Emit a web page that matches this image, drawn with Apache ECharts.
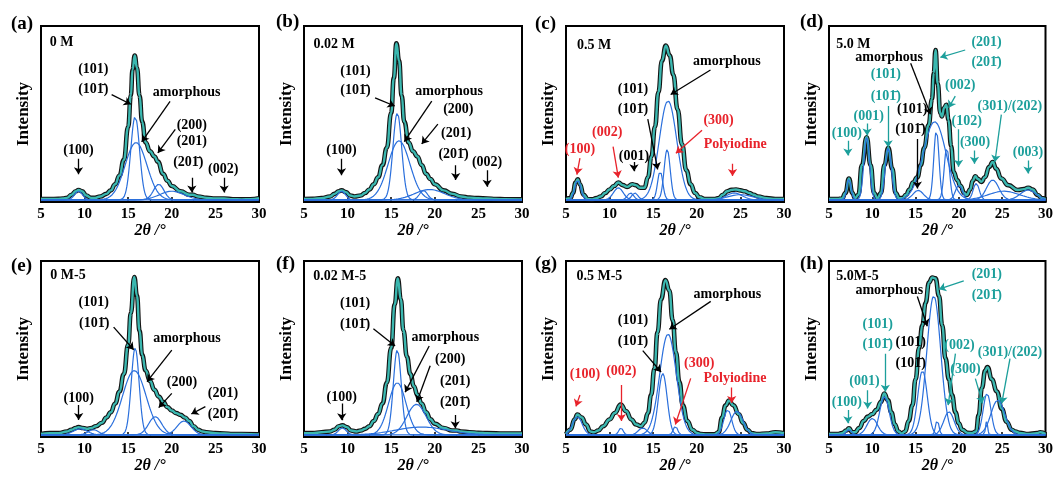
<!DOCTYPE html>
<html>
<head>
<meta charset="utf-8">
<script src="https://cdn.jsdelivr.net/npm/echarts@6/dist/echarts.min.js"></script>
<style>
  html, body { margin: 0; padding: 0; background: #fff; }
  #chart { width: 1056px; height: 479px; }
</style>
</head>
<body>
<div id="chart"></div>
<script>
  // x axis: 2theta, degrees
  var xMin = 5, xMax = 30, xStep = 5;
  var panelLabels = ['(a)', '(b)', '(c)', '(d)', '(e)', '(f)', '(g)', '(h)'];
  var sampleNames = ['0 M', '0.02 M', '0.5 M', '5.0 M', '0 M-5', '0.02 M-5', '0.5 M-5', '5.0M-5'];
  var samplePos = [[6.0, .905], [6.1, .894], [6.25, .89], [5.84, .894], [6.07, .92], [6.07, .913], [6.2, .91], [5.84, .914]];

  // measured patterns [2theta, relative intensity]
  var measA = [[5,.005],[6,.005],[7,.006],[7.5,.008],[8,.012],[8.5,.03],[9,.05],[9.3,.057],[9.7,.05],[10.2,.025],[10.7,.012],[11.2,.012],[11.8,.02],[12.5,.035],[13,.055],[13.5,.09],[14,.14],[14.5,.23],[15,.42],[15.3,.6],[15.5,.75],[15.75,.83],[16,.76],[16.3,.6],[16.6,.45],[17,.33],[17.5,.28],[18,.25],[18.4,.22],[19,.15],[19.5,.11],[20,.08],[21,.05],[22,.03],[22.4,.03],[23,.02],[24,.012],[25,.008],[26,.008],[27,.004],[28,.003],[29,.004],[30,.01]];
  var measB = [[5,.005],[6,.006],[7,.01],[8,.02],[8.5,.035],[9,.05],[9.3,.055],[9.8,.045],[10.3,.025],[10.8,.02],[11.5,.025],[12,.04],[12.5,.06],[13,.09],[13.5,.13],[14,.2],[14.5,.3],[15,.5],[15.3,.7],[15.6,.9],[15.9,.8],[16.2,.6],[16.5,.45],[17,.33],[17.5,.28],[18,.25],[18.5,.2],[19,.15],[19.5,.12],[20,.09],[21,.055],[22,.035],[23,.02],[24,.013],[25,.01],[26,.008],[27,.005],[28,.004],[30,.003]];
  var measC = [[5,.005],[5.5,.01],[5.8,.04],[6.1,.1],[6.35,.118],[6.6,.09],[7,.03],[7.5,.005],[8,.003],[8.5,.01],[9,.02],[9.5,.04],[10,.06],[10.5,.08],[11,.1],[11.5,.085],[12,.075],[12.6,.09],[13,.085],[13.5,.07],[14,.07],[14.4,.13],[14.8,.25],[15.2,.42],[15.6,.62],[16,.8],[16.45,.887],[16.9,.83],[17.3,.72],[17.8,.52],[18.3,.32],[18.8,.17],[19.3,.09],[19.8,.04],[20.3,.015],[21,.005],[22,.005],[22.5,.01],[23,.03],[23.5,.05],[24,.058],[24.5,.06],[25,.055],[25.5,.05],[26,.04],[26.5,.03],[27,.02],[28,.01],[29,.005],[30,.005]];
  var measD = [[5,.005],[6,.005],[6.5,.008],[6.9,.04],[7.3,.123],[7.7,.04],[8,.01],[8.4,.03],[8.8,.2],[9.35,.36],[9.8,.2],[10.2,.04],[10.6,.01],[11,.04],[11.4,.2],[11.85,.3],[12.3,.18],[12.7,.04],[13.1,.01],[13.5,.01],[13.9,.03],[14.3,.06],[14.7,.1],[15.2,.13],[15.6,.2],[16,.3],[16.5,.43],[16.9,.58],[17.1,.73],[17.3,.862],[17.55,.67],[17.85,.5],[18.05,.48],[18.3,.53],[18.55,.547],[18.8,.46],[19.1,.31],[19.4,.16],[19.8,.114],[20.2,.08],[20.6,.04],[20.9,.028],[21.3,.06],[21.6,.11],[21.9,.136],[22.2,.12],[22.6,.104],[23,.13],[23.5,.19],[23.9,.218],[24.3,.18],[24.9,.123],[25.7,.085],[26.8,.057],[27.5,.062],[28,.07],[28.5,.06],[29.1,.028],[29.6,.01],[30,.005]];
  var measE = [[5,.005],[6,.01],[7,.01],[8,.02],[8.5,.03],[9,.04],[9.3,.045],[9.8,.04],[10.3,.035],[10.8,.04],[11.3,.05],[12,.07],[12.5,.1],[13,.13],[13.5,.18],[14,.25],[14.5,.35],[15,.52],[15.3,.7],[15.7,.908],[16,.8],[16.3,.6],[16.6,.46],[17,.37],[17.5,.31],[18,.26],[18.5,.22],[19,.19],[19.5,.16],[20,.14],[20.5,.125],[21,.115],[21.5,.1],[22,.08],[22.5,.05],[23,.03],[23.5,.02],[24,.015],[25,.01],[26,.008],[27,.005],[28,.005],[30,.003]];
  var measF = [[5,.01],[6,.01],[7,.015],[8,.02],[8.5,.03],[9,.05],[9.4,.055],[9.9,.045],[10.4,.025],[11,.02],[11.5,.025],[12,.035],[12.5,.05],[13,.08],[13.5,.12],[14,.18],[14.5,.3],[15,.5],[15.4,.75],[15.76,.9],[16.1,.78],[16.4,.6],[16.8,.45],[17.2,.35],[17.6,.28],[18,.23],[18.5,.18],[19,.13],[19.5,.09],[20,.065],[21,.04],[22,.025],[22.5,.025],[23,.02],[24,.015],[25,.012],[26,.01],[28,.008],[30,.008]];
  var measG = [[5,.005],[5.5,.03],[6,.09],[6.3,.117],[6.8,.1],[7.3,.06],[7.8,.02],[8.2,.015],[8.7,.025],[9.26,.05],[10,.089],[10.6,.126],[11.27,.174],[11.9,.136],[12.5,.089],[13.05,.06],[13.6,.05],[14,.07],[14.4,.126],[14.76,.23],[15.14,.38],[15.5,.59],[15.9,.78],[16.4,.89],[16.85,.83],[17.23,.66],[17.6,.475],[18,.306],[18.4,.17],[18.9,.08],[19.5,.03],[20,.012],[20.5,.005],[21,.003],[22,.003],[22.5,.015],[22.9,.1],[23.3,.17],[23.7,.198],[24.2,.17],[24.8,.12],[25.3,.07],[25.8,.03],[26.3,.01],[27,.005],[28,.008],[29,.015],[30,.01]];
  var measH = [[5,.005],[6,.005],[6.5,.01],[7,.025],[7.3,.038],[7.7,.015],[8,.015],[8.5,.04],[9,.08],[9.5,.105],[10,.12],[10.5,.145],[11,.19],[11.38,.238],[11.8,.2],[12.2,.13],[12.6,.06],[13,.02],[13.4,.008],[13.8,.02],[14.2,.08],[14.63,.17],[15,.32],[15.4,.5],[15.78,.63],[16.16,.76],[16.54,.876],[16.93,.905],[17.3,.9],[17.7,.8],[18.07,.63],[18.45,.44],[18.84,.32],[19.2,.23],[19.6,.13],[19.98,.067],[20.37,.03],[21,.012],[21.5,.01],[22,.02],[22.28,.114],[22.66,.27],[23.04,.37],[23.3,.39],[23.8,.32],[24.38,.25],[24.95,.15],[25.5,.076],[26.1,.03],[26.5,.02],[27,.012],[28,.005],[29,.01],[29.4,.015],[30,.005]];

  // fitted peaks [centre, height, sigma]
  var peaksA = [[9.3,.05,.45],[15.8,.48,.5],[15.9,.33,1.25],[18.5,.09,.6],[20.0,.05,1.4]];
  var peaksB = [[9.3,.05,.45],[15.7,.5,.5],[15.9,.34,1.25],[18.7,.055,.45],[19.4,.06,1.7]];
  var peaksC = [[6.35,.115,.35],[11.0,.07,.55],[12.4,.04,.35],[12.9,.04,.35],[15.8,.165,.3],[16.6,.29,.35],[16.7,.57,1.0],[24.3,.04,.9],[25.0,.03,1.4]];
  var peaksD = [[7.3,.12,.25],[9.35,.36,.33],[11.85,.3,.36],[15.3,.055,.6],[17.2,.45,1.3],[17.4,.40,.3],[18.6,.3,.3],[20.0,.085,.4],[22.0,.095,.35],[23.9,.115,.7],[25.2,.05,1.8],[28.0,.057,.9]];
  var peaksE = [[9.5,.035,.8],[11.0,.03,.6],[15.8,.5,.45],[15.7,.37,1.35],[18.1,.105,.75],[21.4,.08,.8]];
  var peaksF = [[9.4,.04,.45],[15.7,.49,.45],[15.7,.30,1.0],[17.9,.176,1.1],[18.5,.045,3]];
  var peaksG = [[6.3,.105,.55],[11.3,.04,.25],[13.8,.04,.5],[16.1,.353,.5],[16.7,.58,.95],[17.55,.05,.25],[23.55,.145,.45],[24.6,.136,.7]];
  var peaksH = [[7.3,.03,.3],[10.0,.095,.6],[11.4,.22,.55],[15.8,.37,.55],[17.1,.8,.8],[17.5,.085,.2],[18.85,.133,.6],[23.25,.238,.45],[23.2,.08,.12],[24.5,.2,.8]];

  // annotation texts [2theta, y, text, colour key]
  var textsA = [[11.0,.75,'(101)','k'],[11.0,.634,'(101\u0304)','k'],[21.7,.62,'amorphous','k'],[22.3,.43,'(200)','k'],[22.3,.334,'(201)','k'],[21.9,.214,'(201\u0304)','k'],[9.3,.286,'(100)','k'],[25.9,.176,'(002)','k']];
  var textsB = [[10.9,.739,'(101)','k'],[10.9,.63,'(101\u0304)','k'],[21.65,.625,'amorphous','k'],[22.7,.52,'(200)','k'],[22.45,.384,'(201)','k'],[22.15,.26,'(201\u0304)','k'],[9.3,.284,'(100)','k'],[26.0,.218,'(002)','k']];
  var textsC = [[12.68,.638,'(101)','k'],[12.68,.52,'(101\u0304)','k'],[23.45,.794,'amorphous','k'],[22.5,.456,'(300)','r'],[24.4,.32,'Polyiodine','r'],[9.73,.39,'(002)','r'],[6.6,.29,'(100)','r'],[12.8,.25,'(001)','k']];
  var textsD = [[11.95,.82,'amorphous','k'],[23.2,.905,'(201)','t'],[23.2,.79,'(201\u0304)','t'],[11.56,.72,'(101)','t'],[11.56,.597,'(101\u0304)','t'],[20.15,.657,'(002)','t'],[9.58,.479,'(001)','t'],[7.06,.383,'(100)','t'],[14.6,.52,'(101)','k'],[14.4,.407,'(101\u0304)','k'],[20.9,.449,'(102)','t'],[21.87,.33,'(300)','t'],[25.88,.536,'(301)/(202)','t'],[27.98,.275,'(003)','t']];
  var textsE = [[11.04,.76,'(101)','k'],[11.1,.64,'(101\u0304)','k'],[21.74,.555,'amorphous','k'],[21.17,.302,'(200)','k'],[25.87,.239,'(201)','k'],[25.87,.119,'(201\u0304)','k'],[9.32,.21,'(100)','k']];
  var textsF = [[10.86,.758,'(101)','k'],[10.86,.634,'(101\u0304)','k'],[21.2,.559,'amorphous','k'],[21.77,.436,'(200)','k'],[22.34,.307,'(201)','k'],[22.34,.186,'(201\u0304)','k'],[9.33,.218,'(100)','k']];
  var textsG = [[23.5,.806,'amorphous','k'],[12.67,.658,'(101)','k'],[12.67,.54,'(101\u0304)','k'],[20.27,.41,'(300)','r'],[24.38,.325,'Polyiodine','r'],[7.17,.347,'(100)','r'],[11.35,.366,'(002)','r']];
  var textsH = [[11.96,.829,'amorphous','k'],[23.23,.924,'(201)','t'],[23.23,.8,'(201\u0304)','t'],[10.62,.638,'(101)','t'],[10.62,.518,'(101\u0304)','t'],[14.44,.53,'(101)','k'],[14.44,.41,'(101\u0304)','k'],[20.06,.514,'(002)','t'],[20.75,.375,'(300)','t'],[25.9,.476,'(301)/(202)','t'],[9.09,.309,'(001)','t'],[7.06,.185,'(100)','t']];

  // annotation arrows [x1, y1, x2, y2, colour key], head at the second point
  var arrowsA = [[13.1,.605,15.3,.55,'k'],[19.8,.567,16.55,.334,'k'],[20.4,.405,18.4,.27,'k'],[9.3,.237,9.3,.147,'k'],[22.3,.128,22.3,.042,'k'],[26,.128,26,.042,'k']];
  var arrowsB = [[13.15,.587,15.4,.54,'k'],[19.65,.568,16.5,.335,'k'],[20.35,.436,18.5,.322,'k'],[9.3,.237,9.3,.142,'k'],[22.4,.199,22.4,.114,'k'],[26.0,.17,26.0,.076,'k']];
  var arrowsC = [[21.57,.747,17.0,.606,'k'],[14.38,.465,15.51,.175,'k'],[20.6,.40,17.6,.268,'r'],[24.1,.208,24.1,.137,'r'],[10.4,.306,11.0,.128,'r'],[6.6,.24,6.25,.146,'r'],[12.8,.218,12.8,.165,'k']];
  var arrowsD = [[14.43,.786,16.72,.492,'k'],[20.73,.862,17.86,.82,'t'],[11.83,.54,11.83,.303,'t'],[19.58,.597,18.82,.53,'t'],[9.4,.44,9.4,.37,'t'],[7.18,.34,7.18,.256,'t'],[15.2,.35,15.2,.066,'k'],[19.96,.407,19.96,.19,'t'],[21.8,.284,21.8,.208,'t'],[24.9,.49,24.16,.218,'t'],[27.98,.227,27.98,.152,'t']];
  var arrowsE = [[13.33,.62,15.63,.49,'k'],[20.0,.488,17.16,.306,'k'],[20.0,.239,18.5,.157,'k'],[23.85,.163,22.24,.12,'k'],[9.32,.172,9.32,.086,'k']];
  var arrowsF = [[12.96,.61,15.45,.511,'k'],[19.36,.511,16.6,.246,'k'],[19.47,.398,17.94,.189,'k'],[9.33,.18,9.33,.085,'k'],[22.34,.114,22.34,.038,'k']];
  var arrowsG = [[21.6,.768,16.85,.608,'k'],[13.8,.485,15.9,.362,'k'],[19.3,.325,17.54,.06,'r'],[24.0,.272,24.0,.183,'r'],[6.6,.23,6.14,.164,'r'],[11.35,.287,11.35,.08,'r']];
  var arrowsH = [[15.2,.796,16.35,.625,'k'],[20.56,.886,17.7,.838,'t'],[11.5,.467,11.5,.248,'t'],[19.6,.467,18.76,.171,'t'],[21.9,.324,22.74,.181,'t'],[25.9,.438,24.95,.181,'t'],[9.47,.257,9.47,.152,'t'],[7.18,.143,7.18,.067,'t']];

  var meas = [measA, measB, measC, measD, measE, measF, measG, measH];
  var peaks = [peaksA, peaksB, peaksC, peaksD, peaksE, peaksF, peaksG, peaksH];
  var texts = [textsA, textsB, textsC, textsD, textsE, textsF, textsG, textsH];
  var arrows = [arrowsA, arrowsB, arrowsC, arrowsD, arrowsE, arrowsF, arrowsG, arrowsH];

  var SERIF = '"Liberation Serif", "DejaVu Serif", serif';
  var COLORS = { k: '#000', r: '#e8232b', t: '#1c9f9b' };
  var BLUE = '#2a6fdc', TEAL = '#3bb8b0';
  var gridLeft = [41, 304, 566, 829], gridTop = [26, 261];
  var letterPos = [[11, 15], [276, 13], [535, 15], [800, 13], [11, 257], [276, 255], [535, 255], [800, 255]];

  function peakCurve(p) {
    var pts = [];
    for (var t = xMin; t <= xMax + 1e-6; t += 0.04) {
      var d = t - p[0];
      pts.push([+t.toFixed(2), p[1] * Math.exp(-d * d / (2 * p[2] * p[2]))]);
    }
    return pts;
  }

  var option = { animation: false, title: [], grid: [], xAxis: [], yAxis: [], series: [] };

  for (var i = 0; i < 8; i++) {
    var col = i % 4, row = Math.floor(i / 4);
    option.title.push({
      text: panelLabels[i], left: letterPos[i][0], top: letterPos[i][1], padding: 0,
      textStyle: { fontFamily: SERIF, fontWeight: 'bold', fontSize: 19, color: '#000' }
    });
    option.grid.push({
      left: gridLeft[col], top: gridTop[row], width: 218, height: 176,
      show: true, borderColor: '#000', borderWidth: 2, backgroundColor: 'transparent'
    });
    option.xAxis.push({
      gridIndex: i, type: 'value', min: xMin, max: xMax, interval: xStep,
      name: '2\u03b8 /\u00b0', nameLocation: 'middle', nameGap: 18,
      nameTextStyle: { fontFamily: SERIF, fontWeight: 'bold', fontStyle: 'italic', fontSize: 16, color: '#000' },
      axisLine: { onZero: false, lineStyle: { color: '#000', width: 2 } },
      axisTick: { inside: true, length: 5, lineStyle: { color: '#000', width: 1.5 } },
      minorTick: { show: true, splitNumber: 2, length: 3, lineStyle: { color: '#000', width: 1.2 } },
      splitLine: { show: false },
      axisLabel: { margin: 5, color: '#000', fontFamily: SERIF, fontWeight: 'bold', fontSize: 15 }
    });
    option.yAxis.push({
      gridIndex: i, type: 'value', min: -0.012, max: 1,
      name: 'Intensity', nameLocation: 'middle', nameRotate: 90, nameGap: 9,
      nameTextStyle: { fontFamily: SERIF, fontWeight: 'bold', fontSize: 17, color: '#000' },
      axisLine: { show: true, lineStyle: { color: '#000', width: 2 } },
      axisTick: { show: false }, axisLabel: { show: false }, splitLine: { show: false }
    });

    // measured pattern: black outline with teal data band
    option.series.push({
      type: 'line', xAxisIndex: i, yAxisIndex: i, data: meas[i], smooth: 0.5, smoothMonotone: 'x',
      showSymbol: false, z: 2, lineStyle: { color: '#141414', width: 4.6 }
    });
    option.series.push({
      type: 'line', xAxisIndex: i, yAxisIndex: i, data: meas[i], smooth: 0.5, smoothMonotone: 'x',
      showSymbol: false, z: 3, lineStyle: { color: TEAL, width: 2.4 }
    });
    // fitted component peaks
    peaks[i].forEach(function (p) {
      option.series.push({
        type: 'line', xAxisIndex: i, yAxisIndex: i, data: peakCurve(p),
        showSymbol: false, z: 4, lineStyle: { color: BLUE, width: 1.2 }
      });
    });
    // texts
    var tdata = texts[i].map(function (a) {
      return { value: [a[0], a[1]], label: { formatter: a[2], color: COLORS[a[3]] } };
    });
    tdata.push({ value: samplePos[i], label: { formatter: sampleNames[i], color: '#000', align: 'left' } });
    option.series.push({
      type: 'scatter', xAxisIndex: i, yAxisIndex: i, data: tdata, symbolSize: 1, z: 6,
      itemStyle: { color: 'transparent', opacity: 1 }, silent: true,
      label: { show: true, position: 'inside', fontFamily: SERIF, fontWeight: 'bold', fontSize: 14,
        textBorderWidth: 0, opacity: 1 }
    });
    // arrows, one series per colour
    ['k', 'r', 't'].forEach(function (c) {
      var ad = arrows[i].filter(function (a) { return a[4] === c; }).map(function (a) {
        return { coords: [[a[0], a[1]], [a[2], a[3]]] };
      });
      if (!ad.length) return;
      option.series.push({
        type: 'lines', coordinateSystem: 'cartesian2d', xAxisIndex: i, yAxisIndex: i, data: ad, z: 5,
        symbol: ['none', 'arrow'], symbolSize: 7, silent: true,
        lineStyle: { color: COLORS[c], width: 1.3, opacity: 1 }
      });
    });
  }

  var chart = echarts.init(document.getElementById('chart'));
  chart.setOption(option);
</script>
</body>
</html>
